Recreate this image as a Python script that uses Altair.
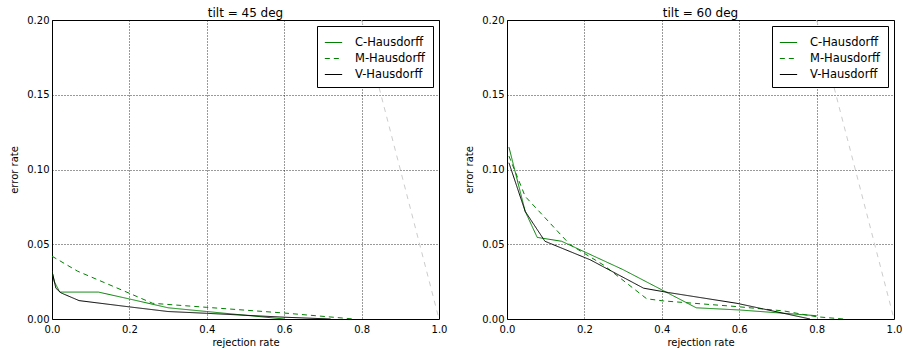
import json
import altair as alt
import pandas as pd

methods = ["C-Hausdorff", "M-Hausdorff", "V-Hausdorff"]
colors = ["#008000", "#008000", "#000000"]
dashes = [[1, 0], [5, 4], [1, 0]]

# tilt = 45 deg
x45_c = [0.0, 0.006, 0.02, 0.12, 0.2, 0.3, 0.4, 0.5, 0.6]
y45_c = [0.032, 0.025, 0.018, 0.018, 0.0134, 0.0075, 0.005, 0.0025, 0.0]
x45_m = [0.0, 0.066, 0.2, 0.26, 0.4, 0.6, 0.78]
y45_m = [0.042, 0.032, 0.0172, 0.0105, 0.0078, 0.004, 0.0]
x45_v = [0.0, 0.01, 0.023, 0.07, 0.2, 0.3, 0.4, 0.6, 0.72]
y45_v = [0.032, 0.0206, 0.0175, 0.0123, 0.0081, 0.005, 0.0038, 0.0012, 0.0]

# tilt = 60 deg
x60_c = [0.005, 0.047, 0.078, 0.141, 0.3, 0.417, 0.489, 0.603, 0.8]
y60_c = [0.115, 0.072, 0.0546, 0.052, 0.033, 0.0172, 0.0075, 0.006, 0.0022]
x60_m = [0.005, 0.047, 0.163, 0.25, 0.361, 0.404, 0.594, 0.715, 0.8, 0.87]
y60_m = [0.109, 0.082, 0.0497, 0.036, 0.0135, 0.0121, 0.0083, 0.0054, 0.0015, 0.0]
x60_v = [0.005, 0.047, 0.098, 0.215, 0.353, 0.417, 0.594, 0.715, 0.783]
y60_v = [0.1045, 0.072, 0.052, 0.0396, 0.0206, 0.0177, 0.0105, 0.0038, 0.0]

# chance line
x_chance = [0.8, 1.0]
y_chance = [0.2, 0.0]

x_ticks = [0.0, 0.2, 0.4, 0.6, 0.8, 1.0]
y_ticks = [0.0, 0.05, 0.10, 0.15, 0.20]

FONT = "DejaVu Sans"

dash_expr = f"{json.dumps(dashes)}[indexof({json.dumps(methods)}, datum.value)]"
stroke_expr = f"{json.dumps(colors)}[indexof({json.dumps(methods)}, datum.value)]"


def frame(series):
    rows = []
    for name, xs, ys in series:
        for i, (a, b) in enumerate(zip(xs, ys)):
            rows.append({"method": name, "order": i, "rej": a, "err": b})
    return pd.DataFrame(rows)


def make_legend():
    return alt.Legend(
        orient="top-right", offset=6, strokeColor="black", fillColor="white",
        padding=7, labelFont=FONT, labelFontSize=11.5, labelColor="black",
        symbolType="stroke", symbolSize=300, symbolStrokeWidth=1.2, rowPadding=1,
        labelOffset=12, cornerRadius=0, title=None,
        symbolDash=alt.ExprRef(expr=dash_expr),
        symbolStrokeColor=alt.ExprRef(expr=stroke_expr),
    )


def panel(title, series):
    df = frame(series)
    chance = pd.DataFrame({"rej": x_chance, "err": y_chance})
    xenc = alt.X("rej:Q", scale=alt.Scale(domain=[0, 1], nice=False),
                 axis=alt.Axis(values=x_ticks, format=".1f", title="rejection rate",
                               labelPadding=5, titlePadding=3))
    yenc = alt.Y("err:Q", scale=alt.Scale(domain=[0, 0.2], nice=False),
                 axis=alt.Axis(values=y_ticks, format=".2f", title="error rate",
                               labelPadding=3, titlePadding=7))
    gray = alt.Chart(chance).mark_line(color="#cccccc", strokeDash=[5, 5], strokeWidth=1, clip=True).encode(
        x=xenc, y=yenc)
    lines = alt.Chart(df).mark_line(strokeWidth=1, clip=True).encode(
        x=xenc, y=yenc,
        order="order:Q",
        color=alt.Color("method:N", scale=alt.Scale(domain=methods, range=colors), legend=make_legend()),
        strokeDash=alt.StrokeDash("method:N", scale=alt.Scale(domain=methods, range=dashes), legend=None),
    )
    return alt.layer(gray, lines).properties(
        width=387, height=299,
        title=alt.TitleParams(title, fontSize=12, fontWeight="normal", font=FONT, offset=-5, frame="group"),
    )


left = panel("tilt = 45 deg", [("C-Hausdorff", x45_c, y45_c),
                               ("M-Hausdorff", x45_m, y45_m),
                               ("V-Hausdorff", x45_v, y45_v)])
right = panel("tilt = 60 deg", [("C-Hausdorff", x60_c, y60_c),
                                ("M-Hausdorff", x60_m, y60_m),
                                ("V-Hausdorff", x60_v, y60_v)])

chart = alt.hconcat(left, right, spacing=16).resolve_legend(
    color="independent", strokeDash="independent"
).resolve_scale(color="independent", strokeDash="independent").properties(
    padding={"left": 9, "top": 6, "right": 0, "bottom": 0}
).configure_view(
    stroke="black", strokeWidth=1
).configure_axis(
    labelFont=FONT, titleFont=FONT, labelFontSize=10, titleFontSize=10,
    titleFontWeight="normal", labelColor="black", titleColor="black",
    grid=True, gridColor="black", gridDash=[1, 2], gridOpacity=1, gridWidth=0.8,
    domain=False, ticks=False, labelFlush=False,
)

chart.save("out.html", embed_options={"renderer": "svg", "actions": False})
